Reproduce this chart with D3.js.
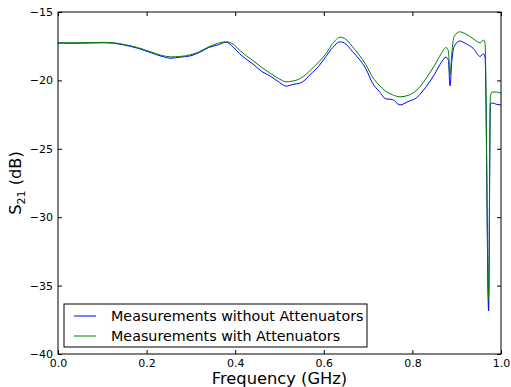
<!DOCTYPE html>
<html>
<head>
<meta charset="utf-8">
<script src="https://cdn.jsdelivr.net/npm/d3@7"></script>
<style>
  body { margin: 0; background: #fff; }
  svg text { font-family: "DejaVu Sans", sans-serif; }
</style>
</head>
<body>
<svg id="chart" width="511" height="387"></svg>
<script>
// frequency samples (GHz)
const freq = [0, 0.05, 0.1, 0.125, 0.15, 0.18, 0.21, 0.235, 0.255, 0.275, 0.3, 0.32, 0.34, 0.36, 0.38,
  0.395, 0.41, 0.425, 0.44, 0.46, 0.48, 0.5, 0.515, 0.53, 0.55, 0.57, 0.59, 0.605, 0.62, 0.637,
  0.65, 0.665, 0.68, 0.695, 0.71, 0.725, 0.74, 0.755, 0.772, 0.79, 0.81, 0.83, 0.85, 0.865, 0.876,
  0.881, 0.885, 0.889, 0.894, 0.907, 0.92, 0.937, 0.953, 0.96, 0.964, 0.972, 0.976, 0.98, 0.99, 1.0];

const withoutAtt = [-17.28, -17.28, -17.25, -17.28, -17.42, -17.65, -17.98, -18.25, -18.38, -18.3, -18.2, -17.95, -17.6, -17.42, -17.2,
  -17.55, -18.05, -18.45, -18.8, -19.35, -19.7, -20.15, -20.42, -20.3, -20.15, -19.55, -18.9, -18.25, -17.6, -17.18,
  -17.35, -17.9, -18.45, -19.15, -20.2, -20.8, -21.35, -21.4, -21.8, -21.55, -21.25, -20.5, -19.55, -18.7, -18.3,
  -18.5, -20.4, -18.6, -17.55, -17.12, -17.3, -17.65, -18.25, -18.05, -18.3, -36.85, -21.7, -21.65, -21.75, -21.8];

const withAtt = [-17.25, -17.25, -17.22, -17.25, -17.38, -17.6, -17.92, -18.18, -18.28, -18.25, -18.12, -17.88, -17.55, -17.3, -17.18,
  -17.35, -17.8, -18.2, -18.55, -19.05, -19.5, -19.9, -20.1, -20.05, -19.8, -19.25, -18.6, -18.05, -17.3, -16.85,
  -17.0, -17.55, -18.15, -18.85, -19.75, -20.35, -20.8, -21.05, -21.2, -21.1, -20.7, -19.9, -18.9, -18.05, -17.6,
  -17.8, -19.6, -18.0, -16.8, -16.45, -16.6, -16.95, -17.25, -17.05, -17.3, -36.0, -21.2, -20.85, -20.85, -20.95];

const xTicks = [0, 0.2, 0.4, 0.6, 0.8, 1.0];
const yTicks = [-15, -20, -25, -30, -35, -40];
const seriesNames = ["Measurements without Attenuators", "Measurements with Attenuators"];
const seriesColors = ["#0000ff", "#008000"];

const svg = d3.select("#chart");
const margin = { top: 12, right: 10, bottom: 33, left: 58 };
const width = +svg.attr("width");
const height = +svg.attr("height");
const x = d3.scaleLinear().domain([0, 1]).range([margin.left, width - margin.right]);
const y = d3.scaleLinear().domain([-40, -15]).range([height - margin.bottom, margin.top]);

svg.append("clipPath").attr("id", "clip")
  .append("rect")
  .attr("x", x(0)).attr("y", y(-15))
  .attr("width", x(1) - x(0)).attr("height", y(-40) - y(-15));

const line = d3.line()
  .x((d, i) => x(freq[i]))
  .y((d) => y(d))
  .curve(d3.curveMonotoneX);

const plot = svg.append("g").attr("clip-path", "url(#clip)");
[withoutAtt, withAtt].forEach((s, k) => {
  plot.append("path").datum(s)
    .attr("fill", "none")
    .attr("stroke", seriesColors[k])
    .attr("stroke-width", 1)
    .attr("d", line);
});

const fmtMinus = (d) => d3.format(".0f")(d).replace("-", "\u2212");

// axes, ticks pointing inward on all sides
svg.append("g").attr("transform", `translate(0,${y(-40)})`)
  .call(d3.axisBottom(x).tickValues(xTicks).tickFormat(d3.format(".1f")).tickSizeInner(-4).tickSizeOuter(0).tickPadding(5))
  .call((g) => g.select(".domain").remove());
svg.append("g").attr("transform", `translate(0,${y(-15)})`)
  .call(d3.axisTop(x).tickValues(xTicks).tickFormat("").tickSizeInner(-4).tickSizeOuter(0))
  .call((g) => g.select(".domain").remove());
svg.append("g").attr("transform", `translate(${x(0)},0)`)
  .call(d3.axisLeft(y).tickValues(yTicks).tickFormat(fmtMinus).tickSizeInner(-4).tickSizeOuter(0).tickPadding(5))
  .call((g) => g.select(".domain").remove());
svg.append("g").attr("transform", `translate(${x(1)},0)`)
  .call(d3.axisRight(y).tickValues(yTicks).tickFormat("").tickSizeInner(-4).tickSizeOuter(0))
  .call((g) => g.select(".domain").remove());

svg.selectAll(".tick text").attr("font-size", 11).attr("fill", "#000").attr("font-family", "DejaVu Sans");
svg.selectAll(".tick line").attr("stroke", "#000");

svg.append("rect")
  .attr("x", x(0)).attr("y", y(-15))
  .attr("width", x(1) - x(0)).attr("height", y(-40) - y(-15))
  .attr("fill", "none").attr("stroke", "#000").attr("stroke-width", 1);

// axis labels
svg.append("text")
  .attr("x", (x(0) + x(1)) / 2).attr("y", 384)
  .attr("text-anchor", "middle").attr("font-size", 16.3)
  .text("Frequency (GHz)");

const yl = svg.append("text")
  .attr("transform", `translate(21,${(y(-15) + y(-40)) / 2}) rotate(-90)`)
  .attr("text-anchor", "middle").attr("font-size", 16.3);
yl.append("tspan").text("S");
yl.append("tspan").attr("font-size", 11).attr("dy", 4).text("21");
yl.append("tspan").attr("dy", -4).text(" (dB)");

// legend
const lg = svg.append("g").attr("transform", "translate(64,304)");
lg.append("rect").attr("width", 303).attr("height", 43)
  .attr("fill", "#fff").attr("stroke", "#000").attr("stroke-width", 1);
seriesNames.forEach((name, k) => {
  const ry = 12 + k * 20;
  lg.append("line").attr("x1", 10).attr("x2", 32).attr("y1", ry).attr("y2", ry)
    .attr("stroke", seriesColors[k]).attr("stroke-width", 1);
  lg.append("text").attr("x", 47).attr("y", ry).attr("dy", "0.35em")
    .attr("font-size", 14.3).text(name);
});
</script>
</body>
</html>
